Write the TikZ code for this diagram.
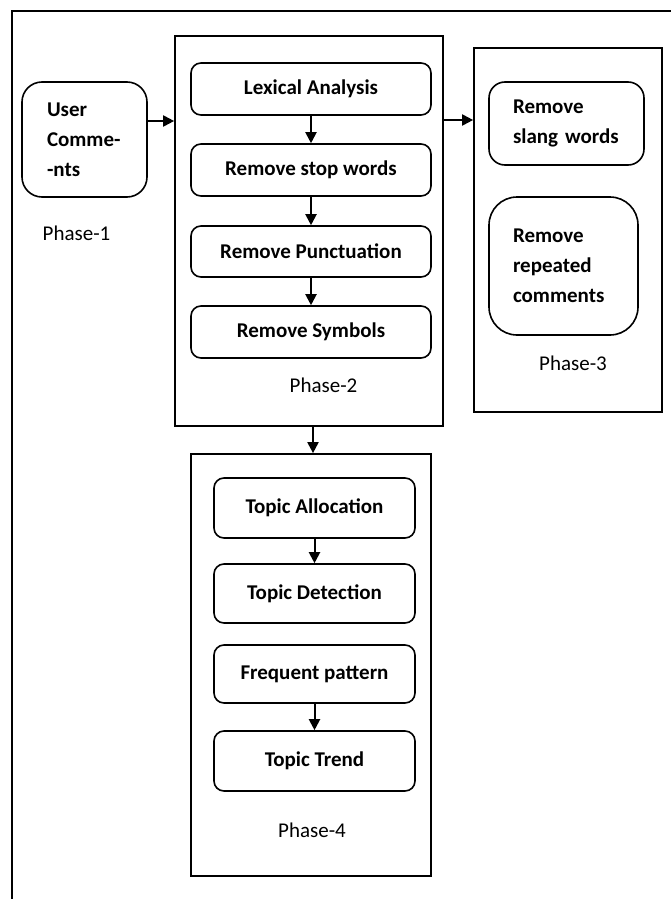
\documentclass[tikz,border=0pt]{standalone}
\usepackage{fontspec}
\setmainfont{Carlito}
\usetikzlibrary{arrows.meta,calc}
\tikzset{
  frame/.style={draw, line width=1.8pt},
  rbox/.style={draw, line width=1.6pt, rounded corners=10pt, font=\fontsize{21}{28}\selectfont\bfseries, inner sep=0pt, align=center},
  lbox/.style={draw, line width=1.6pt, font=\fontsize{21}{30}\selectfont\bfseries, inner sep=0pt, align=left},
  plabel/.style={font=\fontsize{21}{24}\selectfont, inner sep=0pt},
  arr/.style={line width=2pt, -{Triangle[length=11pt,width=11pt]}},
}
\begin{document}
\begin{tikzpicture}[x=1pt,y=1pt]
\useasboundingbox (0,0) rectangle (670,-899);
% outer frame (open on right and bottom)
\draw[frame] (12,-905) -- (12,-11) -- (676,-11);
% phase boxes
\node[draw, line width=1.7pt, minimum width=268pt, minimum height=390pt, inner sep=0pt] (p2) at (309,-231) {};
\node[draw, line width=1.7pt, minimum width=188pt, minimum height=364pt, inner sep=0pt] (p3) at (568,-230) {};
\node[draw, line width=1.7pt, minimum width=240pt, minimum height=422pt, inner sep=0pt] (p4) at (311,-665) {};
% phase 1
\node[lbox, rounded corners=20pt, minimum width=125pt, minimum height=115pt, text width=75pt, inner xsep=25pt] (user) at (84.5,-139.5) {User\\Comme-\\-nts};
\node[plabel] (ph1) at (76.5,-233) {Phase-1};
% phase 2
\node[rbox, minimum width=240pt, minimum height=52pt] (lex) at (311,-89) {Lexical Analysis};
\node[rbox, minimum width=240pt, minimum height=52pt] (stop) at (311,-170) {Remove stop words};
\node[rbox, minimum width=240pt, minimum height=51pt] (punct) at (311,-251.5) {Remove Punctuation};
\node[rbox, minimum width=240pt, minimum height=52pt] (sym) at (311,-332) {Remove Symbols};
\node[plabel] (ph2) at (323.5,-385) {Phase-2};
% phase 3
\node[lbox, rounded corners=16pt, minimum width=155pt, minimum height=83pt, text width=107pt, inner xsep=24pt] (slang) at (566.5,-123.5) {Remove\\slang words};
\node[lbox, rounded corners=28pt, minimum width=149pt, minimum height=138pt, text width=101pt, inner xsep=24pt] (rep) at (563.5,-266) {Remove\\repeated\\comments};
\node[plabel] (ph3) at (573,-363) {Phase-3};
% phase 4
\node[rbox, minimum width=201pt, minimum height=60pt] (alloc) at (314.5,-508) {Topic Allocation};
\node[rbox, minimum width=201pt, minimum height=59pt] (detect) at (314.5,-593.5) {Topic Detection};
\node[rbox, minimum width=201pt, minimum height=58pt] (freq) at (314.5,-674) {Frequent pattern};
\node[rbox, minimum width=201pt, minimum height=60pt] (trend) at (314.5,-761) {Topic Trend};
\node[plabel] (ph4) at (312,-830) {Phase-4};
% connectors
\draw[arr] ([yshift=18.5pt]user.east) -- ([yshift=18.5pt]user.east -| p2.west);
\draw[arr] ([yshift=111pt]p2.east) -- ([yshift=111pt]p2.east -| p3.west);
\draw[arr] (lex) -- (stop);
\draw[arr] (stop) -- (punct);
\draw[arr] (punct) -- (sym);
\draw[arr] ([xshift=4pt]p2.south) -- ([xshift=4pt]p2.south |- p4.north);
\draw[arr] (alloc) -- (detect);
\draw[arr] (freq) -- (trend);
\end{tikzpicture}
\end{document}
